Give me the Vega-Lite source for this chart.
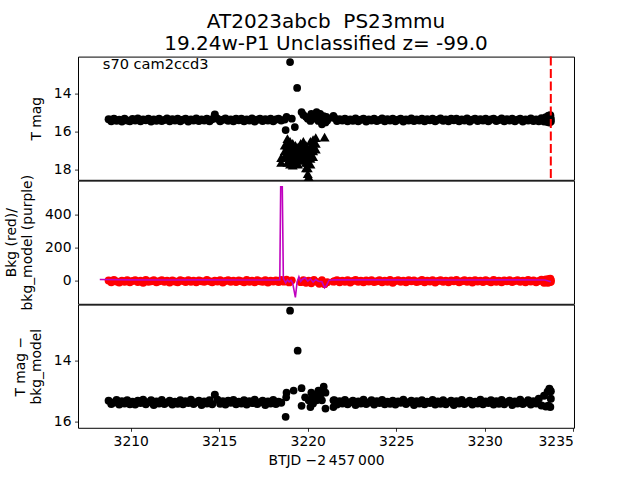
{
"$schema":"https://vega.github.io/schema/vega-lite/v6.json",
"autosize":"pad",
"padding":{"left":4,"top":11.6,"right":0,"bottom":0},
"spacing":0,
"bounds":"flush",
"title":{"text":["AT2023abcb\u00a0 PS23mmu","19.24w-P1 Unclassified z= -99.0"],"font":"DejaVu Sans","fontSize":20,"fontWeight":"normal","color":"black","anchor":"middle","frame":"group","lineHeight":22,"offset":1},
"config":{
"view":{"stroke":"black","strokeWidth":1},
"axis":{"domain":false,"grid":false,"ticks":true,"tickColor":"black","tickSize":3.5,"tickWidth":0.8,"labelFont":"DejaVu Sans","labelFontSize":13.9,"labelColor":"black","labelPadding":3.5,"titleFont":"DejaVu Sans","titleFontSize":13.9,"titleFontWeight":"normal","titleColor":"black","titlePadding":10}
},
"datasets":{
"band":[
{"t":3208.75,"m":15.33,"b":2,"r":15.31},{"t":3208.9,"m":15.44,"b":-8,"r":15.42},{"t":3209.05,"m":15.30,"b":5,"r":15.37},{"t":3209.2,"m":15.41,"b":-4,"r":15.29},{"t":3209.35,"m":15.36,"b":-10,"r":15.44},{"t":3209.5,"m":15.45,"b":1,"r":15.33},{"t":3209.65,"m":15.31,"b":-6,"r":15.40},{"t":3209.8,"m":15.39,"b":4,"r":15.30},{"t":3209.95,"m":15.43,"b":-9,"r":15.43},{"t":3210.1,"m":15.32,"b":-1,"r":15.35},
{"t":3210.25,"m":15.40,"b":3,"r":15.44},{"t":3210.4,"m":15.29,"b":-7,"r":15.31},{"t":3210.55,"m":15.44,"b":0,"r":15.39},{"t":3210.7,"m":15.35,"b":-11,"r":15.28},{"t":3210.85,"m":15.38,"b":5,"r":15.43},{"t":3211.0,"m":15.31,"b":-5,"r":15.36},{"t":3211.15,"m":15.45,"b":-2,"r":15.30},{"t":3211.3,"m":15.34,"b":3,"r":15.45},{"t":3211.45,"m":15.41,"b":-9,"r":15.34},{"t":3211.6,"m":15.30,"b":-3,"r":15.40},
{"t":3211.75,"m":15.42,"b":4,"r":15.29},{"t":3211.9,"m":15.37,"b":-6,"r":15.42},{"t":3212.05,"m":15.29,"b":1,"r":15.37},{"t":3212.2,"m":15.44,"b":-10,"r":15.31},{"t":3212.35,"m":15.33,"b":2,"r":15.44},{"t":3212.5,"m":15.40,"b":-4,"r":15.35},{"t":3212.65,"m":15.31,"b":-8,"r":15.41},{"t":3212.8,"m":15.43,"b":3,"r":15.30},{"t":3212.95,"m":15.36,"b":-1,"r":15.43},{"t":3213.1,"m":15.30,"b":-7,"r":15.33},
{"t":3213.25,"m":15.45,"b":4,"r":15.39},{"t":3213.4,"m":15.35,"b":-5,"r":15.28},{"t":3213.55,"m":15.39,"b":0,"r":15.42},{"t":3213.7,"m":15.29,"b":-9,"r":15.36},{"t":3213.85,"m":15.42,"b":2,"r":15.31},{"t":3214.0,"m":15.34,"b":-3,"r":15.45},{"t":3214.15,"m":15.40,"b":-6,"r":15.34},{"t":3214.3,"m":15.31,"b":5,"r":15.40},{"t":3214.45,"m":15.44,"b":-2,"r":15.30},{"t":3214.6,"m":15.33,"b":-8,"r":15.43},
{"t":3214.75,"m":15.08,"b":1,"r":15.12},{"t":3214.9,"m":15.30,"b":-4,"r":15.28},{"t":3215.05,"m":15.43,"b":3,"r":15.41},{"t":3215.2,"m":15.36,"b":-10,"r":15.33},{"t":3215.35,"m":15.29,"b":-1,"r":15.44},{"t":3215.5,"m":15.41,"b":4,"r":15.31},{"t":3215.65,"m":15.35,"b":-6,"r":15.38},{"t":3215.8,"m":15.44,"b":0,"r":15.29},{"t":3215.95,"m":15.31,"b":-7,"r":15.43},{"t":3216.1,"m":15.38,"b":2,"r":15.35},
{"t":3216.25,"m":15.30,"b":-3,"r":15.40},{"t":3216.4,"m":15.43,"b":-9,"r":15.30},{"t":3216.55,"m":15.34,"b":5,"r":15.44},{"t":3216.7,"m":15.40,"b":-5,"r":15.33},{"t":3216.85,"m":15.29,"b":1,"r":15.39},{"t":3217.0,"m":15.45,"b":-8,"r":15.28},{"t":3217.15,"m":15.36,"b":3,"r":15.42},{"t":3217.3,"m":15.31,"b":-2,"r":15.36},{"t":3217.45,"m":15.42,"b":-6,"r":15.31},{"t":3217.6,"m":15.33,"b":4,"r":15.45},
{"t":3217.75,"m":15.39,"b":-10,"r":15.34},{"t":3217.9,"m":15.30,"b":0,"r":15.40},{"t":3218.05,"m":15.44,"b":-4,"r":15.29},{"t":3218.2,"m":15.35,"b":2,"r":15.42},{"t":3218.35,"m":15.31,"b":-7,"r":15.35},{"t":3218.5,"m":15.40,"b":5,"r":15.38},
{"t":3221.5,"m":15.25,"b":-3,"r":15.30},{"t":3221.65,"m":15.42,"b":4,"r":15.44},{"t":3221.8,"m":15.33,"b":-8,"r":15.33},{"t":3221.95,"m":15.39,"b":1,"r":15.40},{"t":3222.1,"m":15.30,"b":-5,"r":15.29},{"t":3222.25,"m":15.44,"b":3,"r":15.43},{"t":3222.4,"m":15.35,"b":-10,"r":15.36},{"t":3222.55,"m":15.41,"b":-1,"r":15.31},{"t":3222.7,"m":15.29,"b":5,"r":15.45},{"t":3222.85,"m":15.43,"b":-6,"r":15.34},
{"t":3223.0,"m":15.36,"b":0,"r":15.40},{"t":3223.15,"m":15.31,"b":-9,"r":15.28},{"t":3223.3,"m":15.45,"b":2,"r":15.42},{"t":3223.45,"m":15.34,"b":-4,"r":15.37},{"t":3223.6,"m":15.40,"b":4,"r":15.30},{"t":3223.75,"m":15.30,"b":-7,"r":15.44},{"t":3223.9,"m":15.42,"b":-2,"r":15.33},{"t":3224.05,"m":15.37,"b":3,"r":15.39},{"t":3224.2,"m":15.29,"b":-8,"r":15.29},{"t":3224.35,"m":15.44,"b":1,"r":15.43},
{"t":3224.5,"m":15.33,"b":-5,"r":15.35},{"t":3224.65,"m":15.40,"b":5,"r":15.41},{"t":3224.8,"m":15.31,"b":-11,"r":15.31},{"t":3224.95,"m":15.43,"b":-1,"r":15.44},{"t":3225.1,"m":15.36,"b":3,"r":15.34},{"t":3225.25,"m":15.30,"b":-6,"r":15.38},{"t":3225.4,"m":15.45,"b":0,"r":15.28},{"t":3225.55,"m":15.35,"b":-9,"r":15.42},{"t":3225.7,"m":15.39,"b":4,"r":15.36},{"t":3225.85,"m":15.29,"b":-3,"r":15.31},
{"t":3226.0,"m":15.42,"b":2,"r":15.45},{"t":3226.15,"m":15.34,"b":-7,"r":15.33},{"t":3226.3,"m":15.40,"b":-2,"r":15.40},{"t":3226.45,"m":15.31,"b":5,"r":15.30},{"t":3226.6,"m":15.44,"b":-8,"r":15.43},{"t":3226.75,"m":15.33,"b":1,"r":15.35},{"t":3226.9,"m":15.38,"b":-4,"r":15.39},{"t":3227.05,"m":15.30,"b":3,"r":15.29},{"t":3227.2,"m":15.43,"b":-10,"r":15.44},{"t":3227.35,"m":15.36,"b":-1,"r":15.34},
{"t":3227.5,"m":15.29,"b":4,"r":15.41},{"t":3227.65,"m":15.41,"b":-6,"r":15.30},{"t":3227.8,"m":15.35,"b":0,"r":15.43},{"t":3227.95,"m":15.44,"b":-8,"r":15.36},{"t":3228.1,"m":15.31,"b":2,"r":15.31},{"t":3228.25,"m":15.38,"b":-3,"r":15.45},{"t":3228.4,"m":15.30,"b":5,"r":15.33},{"t":3228.55,"m":15.43,"b":-9,"r":15.40},{"t":3228.7,"m":15.34,"b":-2,"r":15.29},{"t":3228.85,"m":15.40,"b":3,"r":15.42},
{"t":3229.0,"m":15.29,"b":-6,"r":15.37},{"t":3229.15,"m":15.45,"b":1,"r":15.31},{"t":3229.3,"m":15.36,"b":-10,"r":15.44},{"t":3229.45,"m":15.31,"b":4,"r":15.35},{"t":3229.6,"m":15.42,"b":-4,"r":15.40},{"t":3229.75,"m":15.33,"b":0,"r":15.28},{"t":3229.9,"m":15.39,"b":-7,"r":15.43},{"t":3230.05,"m":15.30,"b":3,"r":15.34},{"t":3230.2,"m":15.44,"b":-2,"r":15.39},{"t":3230.35,"m":15.35,"b":-8,"r":15.30},
{"t":3230.5,"m":15.31,"b":5,"r":15.44},{"t":3230.65,"m":15.42,"b":-5,"r":15.33},{"t":3230.8,"m":15.37,"b":1,"r":15.41},{"t":3230.95,"m":15.29,"b":-9,"r":15.29},{"t":3231.1,"m":15.44,"b":2,"r":15.43},{"t":3231.25,"m":15.33,"b":-3,"r":15.36},{"t":3231.4,"m":15.40,"b":4,"r":15.31},{"t":3231.55,"m":15.31,"b":-7,"r":15.45},{"t":3231.7,"m":15.43,"b":-1,"r":15.34},{"t":3231.85,"m":15.36,"b":3,"r":15.40},
{"t":3232.0,"m":15.30,"b":-6,"r":15.28},{"t":3232.15,"m":15.45,"b":0,"r":15.42},{"t":3232.3,"m":15.34,"b":-9,"r":15.37},{"t":3232.45,"m":15.40,"b":5,"r":15.30},{"t":3232.6,"m":15.29,"b":-4,"r":15.44},{"t":3232.75,"m":15.42,"b":2,"r":15.33},{"t":3232.9,"m":15.35,"b":-8,"r":15.40},{"t":3233.05,"m":15.44,"b":-1,"r":15.25},{"t":3233.2,"m":15.28,"b":6,"r":15.47},
{"t":3233.35,"m":15.45,"b":-11,"r":15.15},{"t":3233.45,"m":15.22,"b":8,"r":15.50},{"t":3233.55,"m":15.48,"b":-12,"r":15.02},{"t":3233.6,"m":15.15,"b":10,"r":15.48},{"t":3233.65,"m":15.50,"b":-9,"r":14.92},{"t":3233.7,"m":15.12,"b":12,"r":15.52},{"t":3233.73,"m":15.45,"b":-6,"r":15.00},{"t":3233.73,"m":15.30,"b":3,"r":15.25}
],
"topc":[
{"t":3218.7,"m":15.35},{"t":3218.8,"m":15.2},{"t":3219.1,"m":15.3},{"t":3218.75,"m":15.9},{"t":3219.27,"m":15.74},{"t":3219.0,"m":12.32},{"t":3219.4,"m":13.68},{"t":3219.65,"m":14.95},{"t":3219.75,"m":15.1},{"t":3219.9,"m":15.2},{"t":3220.0,"m":15.3},{"t":3220.15,"m":15.42},{"t":3220.2,"m":15.05},{"t":3220.25,"m":15.25},{"t":3220.35,"m":15.15},{"t":3220.45,"m":15.3},{"t":3220.5,"m":14.95},{"t":3220.55,"m":15.25},{"t":3220.6,"m":15.42},{"t":3220.65,"m":15.2},{"t":3220.7,"m":15.05},{"t":3220.8,"m":15.6},{"t":3220.85,"m":15.35},{"t":3220.9,"m":15.16},{"t":3220.95,"m":15.3},{"t":3221.0,"m":15.5},{"t":3221.05,"m":15.2},{"t":3221.1,"m":15.4},{"t":3221.4,"m":15.25},{"t":3221.45,"m":15.15}
],
"tri":[
{"t":3218.5,"m":17.35},{"t":3218.5,"m":17.6},
{"t":3218.7,"m":16.7},{"t":3218.7,"m":17.0},{"t":3218.7,"m":17.3},
{"t":3218.85,"m":16.35},{"t":3218.85,"m":16.7},{"t":3218.85,"m":17.0},{"t":3218.85,"m":17.3},{"t":3218.85,"m":17.6},
{"t":3219.0,"m":16.5},{"t":3219.0,"m":16.8},{"t":3219.0,"m":17.1},{"t":3219.0,"m":17.4},{"t":3219.0,"m":17.7},
{"t":3219.15,"m":16.6},{"t":3219.15,"m":16.9},{"t":3219.15,"m":17.2},{"t":3219.15,"m":17.5},{"t":3219.15,"m":17.75},
{"t":3219.3,"m":16.7},{"t":3219.3,"m":17.0},{"t":3219.3,"m":17.3},{"t":3219.3,"m":17.6},
{"t":3219.45,"m":16.8},{"t":3219.45,"m":17.1},{"t":3219.45,"m":17.4},{"t":3219.45,"m":17.7},
{"t":3219.6,"m":16.6},{"t":3219.6,"m":16.9},{"t":3219.6,"m":17.2},{"t":3219.6,"m":17.5},
{"t":3219.75,"m":16.5},{"t":3219.75,"m":16.8},{"t":3219.75,"m":17.1},{"t":3219.75,"m":17.4},
{"t":3219.9,"m":16.7},{"t":3219.9,"m":17.0},{"t":3219.9,"m":17.3},{"t":3219.9,"m":17.6},{"t":3219.9,"m":17.9},
{"t":3220.0,"m":17.0},{"t":3220.0,"m":17.3},{"t":3220.0,"m":17.6},{"t":3220.0,"m":17.9},{"t":3220.0,"m":18.2},{"t":3220.05,"m":18.35},
{"t":3220.15,"m":16.5},{"t":3220.15,"m":16.8},{"t":3220.15,"m":17.1},{"t":3220.15,"m":17.4},{"t":3220.15,"m":17.7},
{"t":3220.3,"m":16.4},{"t":3220.3,"m":16.7},{"t":3220.3,"m":17.0},{"t":3220.3,"m":17.3},
{"t":3220.45,"m":16.3},{"t":3220.45,"m":16.6},{"t":3220.45,"m":16.9},
{"t":3220.95,"m":16.27}
],
"botc":[
{"t":3219.0,"r":12.36},{"t":3219.43,"r":13.67},{"t":3218.8,"r":15.05},{"t":3218.78,"r":15.2},{"t":3219.2,"r":14.98},{"t":3218.75,"r":15.84},{"t":3219.65,"r":14.9},{"t":3219.85,"r":15.2},{"t":3219.65,"r":15.48},{"t":3220.05,"r":15.3},{"t":3220.2,"r":15.05},{"t":3220.4,"r":15.15},{"t":3220.6,"r":14.98},{"t":3220.9,"r":14.85},{"t":3221.0,"r":15.05},{"t":3221.0,"r":15.57},{"t":3220.3,"r":15.4},{"t":3220.5,"r":15.3},{"t":3220.7,"r":15.2},{"t":3220.15,"r":15.52},{"t":3220.8,"r":15.3},{"t":3221.45,"r":15.3},{"t":3221.45,"r":15.52},{"t":3220.25,"r":15.2},{"t":3220.55,"r":15.1},{"t":3220.75,"r":15.05},{"t":3220.35,"r":15.3}
],
"redc":[
{"t":3218.65,"b":-5},{"t":3218.8,"b":8},{"t":3218.95,"b":-10},{"t":3219.1,"b":3},{"t":3219.6,"b":-8},{"t":3219.75,"b":5},{"t":3219.9,"b":-12},{"t":3220.05,"b":2},{"t":3220.2,"b":-15},{"t":3220.35,"b":6},{"t":3220.5,"b":-6},{"t":3220.65,"b":-18},{"t":3220.8,"b":4},{"t":3220.95,"b":-20},{"t":3221.1,"b":-8},{"t":3221.45,"b":-5}
],
"model":[
{"t":3208.25,"v":8},{"t":3210,"v":6},{"t":3212,"v":5},{"t":3214,"v":6},{"t":3216,"v":5},{"t":3218.42,"v":6},{"t":3218.47,"v":570},{"t":3218.56,"v":570},{"t":3218.62,"v":15},{"t":3218.75,"v":-12},{"t":3218.85,"v":6},{"t":3218.95,"v":-6},{"t":3219.05,"v":4},{"t":3219.15,"v":-15},{"t":3219.3,"v":-100},{"t":3219.4,"v":-5},{"t":3219.5,"v":25},{"t":3219.6,"v":-3},{"t":3219.7,"v":10},{"t":3219.85,"v":18},{"t":3220.0,"v":-2},{"t":3220.15,"v":12},{"t":3220.3,"v":-8},{"t":3220.45,"v":8},{"t":3220.6,"v":-2},{"t":3220.8,"v":-6},{"t":3220.95,"v":-42},{"t":3221.05,"v":-30},{"t":3221.2,"v":4},{"t":3221.5,"v":7},{"t":3224,"v":6},{"t":3228,"v":5},{"t":3232,"v":6},{"t":3233.4,"v":5},{"t":3233.73,"v":-6}
],
"vline":[{"t":3233.73}],
"lab":[{"t":3208.42,"m":12.68,"s":"s70 cam2ccd3"}]
},
"vconcat":[
{"width":496,"height":123.2,
"layer":[
{"data":{"name":"band"},"mark":{"type":"point","filled":true,"size":64,"color":"black","opacity":1},
"encoding":{"x":{"field":"t","type":"quantitative","scale":{"domain":[3207.02,3235.04],"nice":false,"zero":false},"axis":null},
"y":{"field":"m","type":"quantitative","scale":{"domain":[12.03,18.52],"reverse":true,"nice":false,"zero":false},"axis":{"values":[14,16,18],"title":"T mag"}}}},
{"data":{"name":"topc"},"mark":{"type":"point","filled":true,"size":60,"color":"black","opacity":1},
"encoding":{"x":{"field":"t","type":"quantitative"},"y":{"field":"m","type":"quantitative"}}},
{"data":{"name":"tri"},"mark":{"type":"point","shape":"triangle-up","filled":true,"size":100,"color":"black","opacity":1},
"encoding":{"x":{"field":"t","type":"quantitative"},"y":{"field":"m","type":"quantitative"}}},
{"data":{"name":"vline"},"mark":{"type":"rule","color":"red","strokeDash":[9,3.5],"strokeWidth":2},
"encoding":{"x":{"field":"t","type":"quantitative"}}},
{"data":{"name":"lab"},"mark":{"type":"text","align":"left","baseline":"alphabetic","font":"DejaVu Sans","fontSize":14.6,"color":"black"},
"encoding":{"x":{"field":"t","type":"quantitative"},"y":{"field":"m","type":"quantitative"},"text":{"field":"s"}}}
]},
{"width":496,"height":123.2,
"layer":[
{"data":{"name":"band"},"mark":{"type":"point","filled":true,"size":64,"color":"#ff0000","opacity":1},
"encoding":{"x":{"field":"t","type":"quantitative","scale":{"domain":[3207.02,3235.04],"nice":false,"zero":false},"axis":null},
"y":{"field":"b","type":"quantitative","scale":{"domain":[-139,607],"nice":false,"zero":false},"axis":{"values":[0,200,400],"title":["Bkg (red)/","bkg_model (purple)"]}}}},
{"data":{"name":"redc"},"mark":{"type":"point","filled":true,"size":60,"color":"#ff0000","opacity":1},
"encoding":{"x":{"field":"t","type":"quantitative"},"y":{"field":"b","type":"quantitative"}}},
{"data":{"name":"model"},"mark":{"type":"line","color":"#bf00bf","strokeWidth":1.6},
"encoding":{"x":{"field":"t","type":"quantitative"},"y":{"field":"v","type":"quantitative"}}}
]},
{"width":496,"height":123.2,
"layer":[
{"data":{"name":"band"},"mark":{"type":"point","filled":true,"size":64,"color":"black","opacity":1},
"encoding":{"x":{"field":"t","type":"quantitative","scale":{"domain":[3207.02,3235.04],"nice":false,"zero":false},"axis":{"values":[3210,3215,3220,3225,3230,3235],"format":"d","title":"BTJD \u22122\u2009457\u2009000","titlePadding":5}},
"y":{"field":"r","type":"quantitative","scale":{"domain":[12.16,16.2],"reverse":true,"nice":false,"zero":false},"axis":{"values":[14,16],"title":["T mag \u2212","bkg_model"]}}}},
{"data":{"name":"botc"},"mark":{"type":"point","filled":true,"size":60,"color":"black","opacity":1},
"encoding":{"x":{"field":"t","type":"quantitative"},"y":{"field":"r","type":"quantitative"}}}
]}
],
"resolve":{"scale":{"y":"independent"}}
}
